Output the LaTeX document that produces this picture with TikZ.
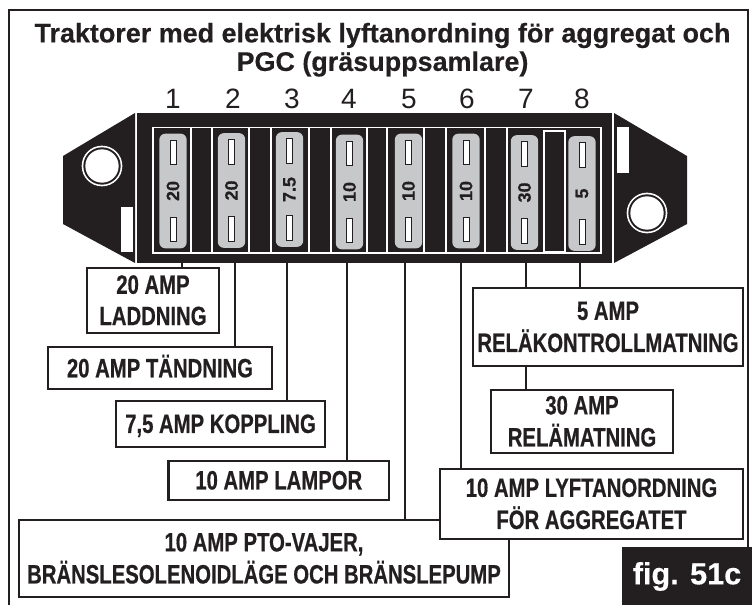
\documentclass[tikz,border=0pt]{standalone}
\usepackage{fontspec}
\setmainfont{Liberation Sans}
\newfontfamily\condfont[FakeStretch=0.765,FakeBold=0.5]{Liberation Sans Bold}
\newfontfamily\heavyfont[FakeBold=0.35]{Liberation Sans Bold}
\definecolor{ink}{HTML}{231F20}
\definecolor{fusegrey}{HTML}{C6C8CA}
\tikzset{
  lab/.style={draw=ink,fill=white,line width=1.8pt,inner sep=0pt,outer sep=0pt,text=ink,
    font=\condfont\fontsize{19.9}{23.5}\selectfont},
  wire/.style={draw=ink,line width=1.8pt},
  body/.style={fill=ink,draw=none},
  whiteln/.style={draw=white,line width=0.9pt},
  fusebox/.style={fill=fusegrey,draw=none,rounded corners=4.5pt,minimum width=20.5pt,minimum height=86pt,inner sep=0pt,outer sep=0pt},
  fuseslot/.style={fill=white,draw=ink,line width=0.5pt,minimum width=4.5pt,minimum height=18.5pt,inner sep=0pt,outer sep=0pt},
  fuselab/.style={rotate=90,text=ink,font=\heavyfont\fontsize{13.5}{14}\selectfont,inner sep=0pt},
  num/.style={text=ink,font=\fontsize{21}{22}\selectfont,inner sep=0pt},
  hole/.style={circle,fill=white,draw=none,minimum size=25pt,inner sep=0pt,outer sep=0pt},
}
\newcommand\lblbox[6]{%
  \pgfmathsetmacro\cxv{(#2+#4)/2}\pgfmathsetmacro\cyv{(#3+#5)/2}%
  \pgfmathsetmacro\wv{(#4-#2)*0.75}\pgfmathsetmacro\hv{(#5-#3)*0.75}%
  \node[lab,minimum width=\wv pt,minimum height=\hv pt] (#1) at (\cxv,\cyv)
    {\raisebox{-2pt}[\height][\depth]{\begin{tabular}{@{}c@{}}#6\end{tabular}}};}
\begin{document}
\begin{tikzpicture}[x=0.75pt,y=-0.75pt]
\useasboundingbox (0,0) rectangle (752,605);
\fill[white] (0,0) rectangle (752,605);
% frame
\draw[ink,line width=2pt] (9,605) -- (9,10) -- (748,10) -- (748,550);
% title
\node[text=ink,font=\heavyfont\fontsize{20.2}{22}\selectfont,inner sep=0pt] (t1) at (382.5,35.5) {Traktorer med elektrisk lyftanordning för aggregat och};
\node[text=ink,font=\heavyfont\fontsize{20.2}{22}\selectfont,inner sep=0pt] (t2) at (382.5,64) {PGC (gräsuppsamlare)};
% numbers
\foreach \n/\x in {1/173,2/233,3/292,4/349,5/409,6/467,7/526,8/582}
  \node[num] (n\n) at (\x,99) {\n};
% fuse block
\fill[body] (137,113) rectangle (612,263);
\fill[body] (63,156) -- (135,113) -- (135,263) -- (63,224) -- cycle;
\fill[body] (614,113) -- (687,156) -- (687,224) -- (614,263) -- cycle;
\coordinate (blk) at (137,263);
% holes
\node[hole,minimum size=30.5pt] (hl) at (102,166) {};
\node[hole,fill=ink,minimum size=28pt] (hlr) at (102,166) {};
\node[hole] (hli) at (102,166) {};
\node[hole,minimum size=30.5pt] (hr) at (647,213) {};
\node[hole,fill=ink,minimum size=28pt] (hrr) at (647,213) {};
\node[hole] (hri) at (647,213) {};
\fill[white] (121,207) rectangle (133,252);
\fill[white] (617,127) rectangle (629,173);
% panel
\draw[whiteln] (153,127.5) rectangle (601,253);
\foreach \x in {191,212,249,271,309,331,367,387,424,446,485,507}
  \draw[whiteln] (\x,127.5) -- (\x,253);
\draw[whiteln] (544,131) rectangle (565,252);
% fuses
\foreach \i/\x/\y/\v in {1/173/191/20,2/231.5/190.5/20,3/289.5/189.5/7.5,4/349.5/192/10,5/408.5/191/10,6/466/191/10,7/524.5/192.5/30,8/582/193.5/5}{
  \node[fusebox] (f\i) at (\x,\y) {};
  \node[fuseslot] (ft\i) at (\x,\y-38.5) {};
  \node[fuseslot] (fb\i) at (\x,\y+38.5) {};
  \node[fuselab] (fl\i) at (\x,\y) {\v};
}
% connector anchors on block
\foreach \i/\x in {1/182,2/235,3/287,4/347,5/405,6/461,7/526,8/580}
  \coordinate (p\i) at (\x,263);
% labels
\lblbox{b5}{19}{520}{509}{597}{10 AMP PTO-VAJER,\\BRÄNSLESOLENOIDLÄGE OCH BRÄNSLEPUMP}
\lblbox{b6}{440}{469}{743}{539}{10 AMP LYFTANORDNING\\FÖR AGGREGATET}
\lblbox{b1}{87}{268}{219}{333}{20 AMP\\LADDNING}
\lblbox{b2}{48}{347}{272}{389}{20 AMP TÄNDNING}
\lblbox{b3}{116}{401}{325}{447}{7,5 AMP KOPPLING}
\lblbox{b4}{168.5}{461}{389}{500}{10 AMP LAMPOR}
\lblbox{b8}{473}{288}{743}{366}{5 AMP\\RELÄKONTROLLMATNING}
\lblbox{b7}{491}{390}{673}{453}{30 AMP\\RELÄMATNING}
% connectors
\draw[wire] (p1) -- (p1 |- b1.north);
\draw[wire] (p2) -- (p2 |- b2.north);
\draw[wire] (p3) -- (p3 |- b3.north);
\draw[wire] (p4) -- (p4 |- b4.north);
\draw[wire] (p5) -- (p5 |- b5.north);
\draw[wire] (p6) -- (p6 |- b6.north);
\draw[wire] (p7) -- (p7 |- b8.north);
\draw[wire] (p8) -- (p8 |- b8.north);
\draw[wire] (p7 |- b8.south) -- (p7 |- b7.north);
% fig tag
\node[fill=ink,text=white,font=\heavyfont\fontsize{23}{24}\selectfont,minimum width=97.5pt,minimum height=44pt,inner sep=0pt,outer sep=0pt] (fig) at (687,576.5) {fig. 51c};
\end{tikzpicture}
\end{document}
